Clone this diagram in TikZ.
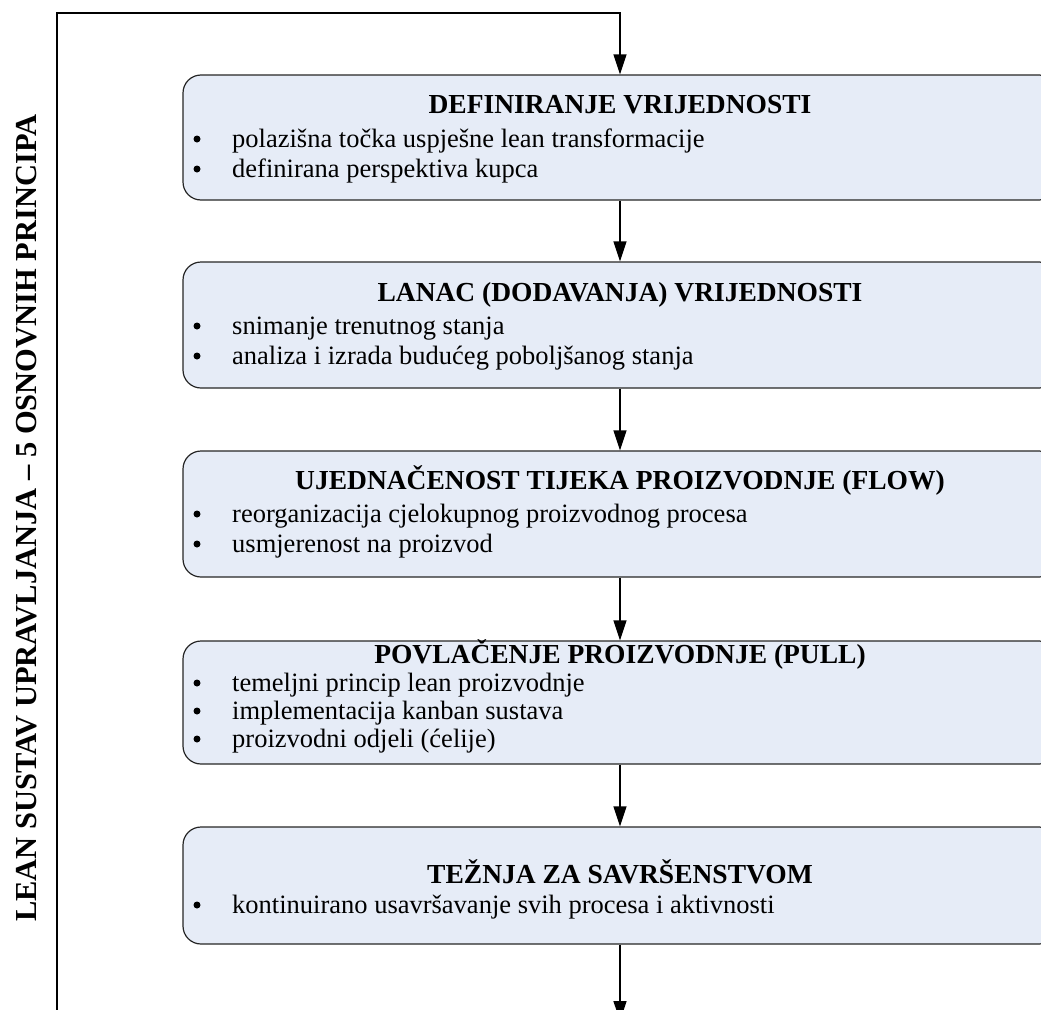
\documentclass[tikz,border=0pt]{standalone}
\usepackage{fontspec}
\setmainfont{Liberation Serif}
\usetikzlibrary{arrows.meta}
\definecolor{boxfill}{HTML}{E6ECF7}
\begin{document}
\begin{tikzpicture}[x=1pt,y=-1pt,
  box/.style={draw=black!85, line width=1.2pt, fill=boxfill, rounded corners=18pt,
    minimum width=874pt, inner sep=0pt},
  ttl/.style={anchor=base, inner sep=0pt, font=\bfseries\fontsize{27.5}{30}\selectfont},
  itm/.style={anchor=base west, inner sep=0pt, font=\fontsize{26.5}{30}\selectfont},
  dot/.style={circle, fill=black, inner sep=0pt, minimum size=7pt},
  arr/.style={line width=1.3pt, -{Triangle[length=20pt,width=13pt]}},
  lbl/.style={rotate=90, inner sep=0pt, font=\bfseries\fontsize{30.5}{36}\selectfont}]
\useasboundingbox (0,0) rectangle (1041,1009);
\clip (0,0) rectangle (1041,1009);

% boxes
\node[box, minimum height=125pt] (b1) at (620,137.5) {};
\node[box, minimum height=126pt] (b2) at (620,325) {};
\node[box, minimum height=126pt] (b3) at (620,514) {};
\node[box, minimum height=123pt] (b4) at (620,702.5) {};
\node[box, minimum height=117pt] (b5) at (620,885.5) {};

% box 1
\node[ttl] (t1) at (620,113) {DEFINIRANJE VRIJEDNOSTI};
\node[dot] (d11) at (197,139) {};
\node[itm] (i11) at (232,147) {polazišna točka uspješne lean transformacije};
\node[dot] (d12) at (197,169) {};
\node[itm] (i12) at (232,177) {definirana perspektiva kupca};

% box 2
\node[ttl] (t2) at (620,301) {LANAC (DODAVANJA) VRIJEDNOSTI};
\node[dot] (d21) at (197,326) {};
\node[itm] (i21) at (232,334) {snimanje trenutnog stanja};
\node[dot] (d22) at (197,356) {};
\node[itm] (i22) at (232,364) {analiza i izrada budućeg poboljšanog stanja};

% box 3
\node[ttl] (t3) at (620,489) {UJEDNAČENOST TIJEKA PROIZVODNJE (FLOW)};
\node[dot] (d31) at (197,514) {};
\node[itm] (i31) at (232,522) {reorganizacija cjelokupnog proizvodnog procesa};
\node[dot] (d32) at (197,544) {};
\node[itm] (i32) at (232,552) {usmjerenost na proizvod};

% box 4
\node[ttl] (t4) at (620,663) {POVLAČENJE PROIZVODNJE (PULL)};
\node[dot] (d41) at (197,683) {};
\node[itm] (i41) at (232,691) {temeljni princip lean proizvodnje};
\node[dot] (d42) at (197,711) {};
\node[itm] (i42) at (232,719) {implementacija kanban sustava};
\node[dot] (d43) at (197,739) {};
\node[itm] (i43) at (232,747) {proizvodni odjeli (ćelije)};

% box 5
\node[ttl] (t5) at (620,883) {TEŽNJA ZA SAVRŠENSTVOM};
\node[dot] (d51) at (197,905) {};
\node[itm] (i51) at (232,913) {kontinuirano usavršavanje svih procesa i aktivnosti};

% side label
\node[lbl] (lab) at (27,518) {LEAN SUSTAV UPRAVLJANJA – 5 OSNOVNIH PRINCIPA};

% connectors
\draw[arr] (b1.south) -- (b2.north);
\draw[arr] (b2.south) -- (b3.north);
\draw[arr] (b3.south) -- (b4.north);
\draw[arr] (b4.south) -- (b5.north);
\coordinate (endp) at (620,1021);
\draw[arr] (b5.south) -- (endp);
\coordinate (lb) at (57,1030);
\coordinate (lt) at (57,13);
\draw[arr] (lb) -- (lt) -| (b1.north);
\end{tikzpicture}
\end{document}
